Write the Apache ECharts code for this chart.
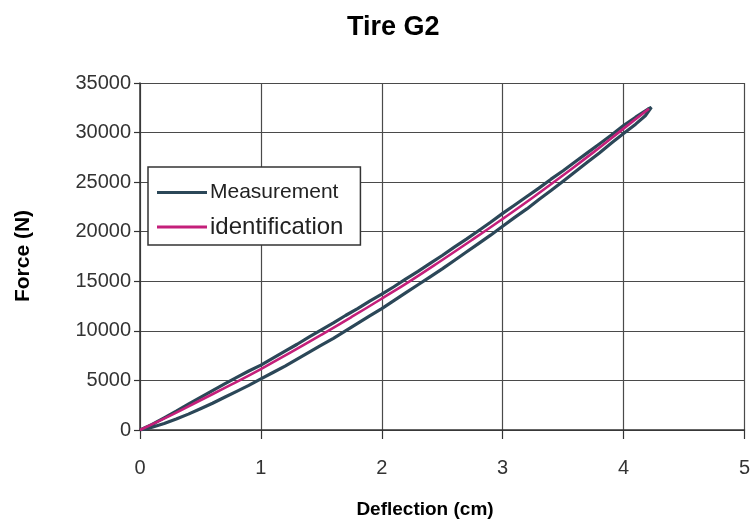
<!DOCTYPE html>
<html>
<head>
<meta charset="utf-8">
<script src="https://cdn.jsdelivr.net/npm/echarts@6/dist/echarts.min.js"></script>
<style>
  html, body { margin: 0; padding: 0; background: #ffffff; }
  #chart { width: 753px; height: 524px; }
</style>
</head>
<body>
<div id="chart"></div>
<script>
// Deflection (cm) / force (N) pairs for the measured loop: loading branch then unloading branch
const measuredLoading = [
  [0.00, 0], [0.05, 280], [0.10, 560], [0.20, 1230], [0.30, 1900], [0.40, 2600],
  [0.50, 3300], [0.60, 3980], [0.70, 4650], [0.80, 5300], [0.90, 5950], [1.00, 6550],
  [1.10, 7250], [1.20, 7950], [1.30, 8650], [1.40, 9400], [1.50, 10100], [1.60, 10800],
  [1.70, 11550], [1.80, 12250], [1.90, 13000], [2.00, 13700], [2.10, 14450], [2.20, 15250],
  [2.30, 16000], [2.40, 16800], [2.50, 17600], [2.60, 18450], [2.70, 19250], [2.80, 20100],
  [2.90, 20950], [3.00, 21850], [3.10, 22700], [3.20, 23550], [3.30, 24400], [3.40, 25300],
  [3.50, 26150], [3.60, 27050], [3.70, 27950], [3.80, 28850], [3.90, 29750], [4.00, 30700],
  [4.10, 31550], [4.20, 32350], [4.23, 32550]
];
const measuredUnloading = [
  [4.23, 32550], [4.18, 31700], [4.10, 30850], [4.00, 29900], [3.90, 28950], [3.80, 27950],
  [3.70, 27000], [3.60, 26050], [3.50, 25100], [3.40, 24150], [3.30, 23250], [3.20, 22300],
  [3.10, 21450], [3.00, 20550], [2.90, 19650], [2.80, 18800], [2.70, 17950], [2.60, 17100],
  [2.50, 16250], [2.40, 15450], [2.30, 14650], [2.20, 13850], [2.10, 13050], [2.00, 12250],
  [1.90, 11500], [1.80, 10750], [1.70, 10000], [1.60, 9250], [1.50, 8550], [1.40, 7850],
  [1.30, 7150], [1.20, 6450], [1.10, 5800], [1.00, 5150], [0.90, 4500], [0.80, 3900],
  [0.70, 3300], [0.60, 2700], [0.50, 2150], [0.40, 1600], [0.30, 1100], [0.20, 650],
  [0.10, 280], [0.05, 110], [0.00, 0]
];
// Identified (fitted) force-deflection curve
const identified = [
  [0.00, 0], [0.25, 1450], [0.50, 3000], [0.75, 4550], [1.00, 6150], [1.25, 7850],
  [1.50, 9600], [1.75, 11400], [2.00, 13250], [2.25, 15150], [2.50, 17150], [2.75, 19200],
  [3.00, 21300], [3.25, 23450], [3.50, 25700], [3.75, 28000], [4.00, 30400], [4.21, 32400]
];
const xTicks = [0, 1, 2, 3, 4, 5];
const yTicks = [0, 5000, 10000, 15000, 20000, 25000, 30000, 35000];

const chart = echarts.init(document.getElementById('chart'), null, { renderer: 'canvas' });
const FONT = '"Liberation Sans", Arial, Helvetica, sans-serif';
const gridColor = '#4a4a4a';

chart.setOption({
  backgroundColor: '#ffffff',
  animation: false,
  title: {
    text: 'Tire G2',
    left: 342, top: 9,
    textStyle: { fontFamily: FONT, fontSize: 27, fontWeight: 'bold', color: '#000' }
  },
  grid: { left: 140, right: 4, top: 83, bottom: 94 },
  legend: {
    orient: 'vertical',
    left: 148, top: 167,
    padding: [15, 17, 6, 9],
    itemGap: 12,
    itemWidth: 50,
    itemHeight: 3,
    icon: 'rect',
    backgroundColor: '#ffffff',
    borderColor: '#333',
    borderWidth: 1.5,
    borderRadius: 0,
    textStyle: { fontFamily: FONT, color: '#222', padding: [0, 0, 0, -2] },
    data: [
      { name: 'Measurement', textStyle: { fontSize: 21 } },
      { name: 'identification', textStyle: { fontSize: 24 } }
    ]
  },
  xAxis: {
    type: 'value',
    min: xTicks[0], max: xTicks[xTicks.length - 1], interval: 1,
    axisLine: { show: true, onZero: false, lineStyle: { color: '#333', width: 1.5 } },
    axisTick: { show: true, inside: false, length: 9, lineStyle: { color: '#333', width: 1.2 } },
    axisLabel: { fontFamily: FONT, fontSize: 20, color: '#333', margin: 28 },
    splitLine: { show: true, lineStyle: { color: gridColor, width: 1.2 } }
  },
  yAxis: {
    type: 'value',
    min: yTicks[0], max: yTicks[yTicks.length - 1], interval: 5000,
    axisLine: { show: true, lineStyle: { color: '#333', width: 1.5 } },
    axisTick: { show: true, inside: false, length: 6, lineStyle: { color: '#333', width: 1.2 } },
    axisLabel: {
      fontFamily: FONT, fontSize: 20, color: '#333', margin: 9,
      formatter: (v) => String(v)
    },
    splitLine: { show: true, lineStyle: { color: gridColor, width: 1.2 } }
  },
  graphic: [
    {
      type: 'text', x: 425, y: 510,
      style: {
        text: 'Deflection (cm)', font: 'bold 19px ' + FONT, fill: '#000',
        align: 'center', verticalAlign: 'middle'
      }
    },
    {
      type: 'text', rotation: Math.PI / 2, x: 23, y: 256,
      style: {
        text: 'Force (N)', font: 'bold 21px ' + FONT, fill: '#000',
        align: 'center', verticalAlign: 'middle'
      }
    }
  ],
  series: [
    {
      name: 'Measurement',
      type: 'line',
      symbol: 'none',
      data: measuredLoading.concat(measuredUnloading),
      lineStyle: { color: '#2b4758', width: 3.2 },
      itemStyle: { color: '#2b4758' },
      z: 2
    },
    {
      name: 'identification',
      type: 'line',
      symbol: 'none',
      smooth: true,
      data: identified,
      lineStyle: { color: '#c41f7a', width: 2.6 },
      itemStyle: { color: '#c41f7a' },
      z: 3
    }
  ]
});
</script>
</body>
</html>
